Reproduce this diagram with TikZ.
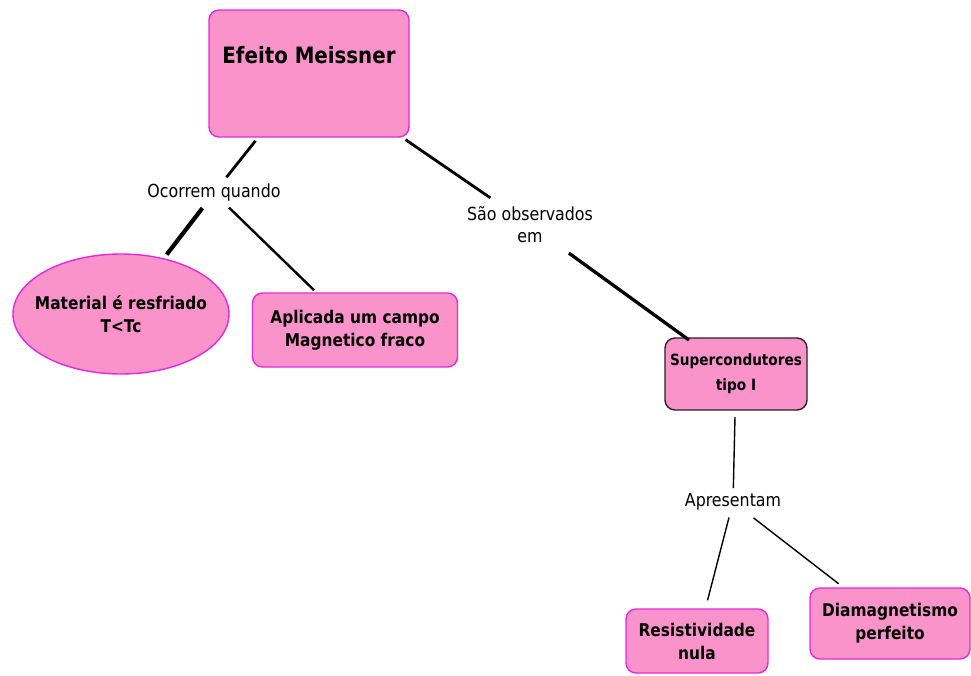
\documentclass[tikz,border=0pt]{standalone}
\usepackage{fontspec}
\setmainfont{DejaVu Sans}[FakeStretch=0.88]
\usetikzlibrary{shapes.geometric}
\definecolor{conceptfill}{RGB}{249,147,201}
\definecolor{conceptline}{RGB}{226,40,226}
\definecolor{darkline}{RGB}{45,30,40}
\begin{document}
\begin{tikzpicture}[x=1pt, y=-1pt,
  concept/.style={draw=conceptline, line width=1.4pt, fill=conceptfill, rounded corners=10pt,
    inner sep=0pt, align=center, font=\bfseries\fontsize{17.5}{23}\selectfont},
  linkword/.style={inner sep=0pt, align=center, font=\fontsize{18}{22}\selectfont},
  thick link/.style={line width=2.8pt},
  thin link/.style={line width=1.4pt}]
\useasboundingbox (0,0) rectangle (971,675);
% main concept
\node[concept, minimum width=200pt, text height=53pt, text depth=74pt,
  font=\bfseries\fontsize{22.5}{26}\selectfont] at (309,73.5) (meissner) {Efeito Meissner};
% conditions
\node[linkword] at (214,193) (ocorrem) {Ocorrem quando};
\node[concept, ellipse, rounded corners=0pt, inner sep=-12pt, minimum width=216pt, minimum height=120pt] at (121,314) (resfriado) {Material é resfriado\\T<Tc};
\node[concept, minimum width=205pt, minimum height=74pt] at (355,330) (campo) {Aplicada um campo\\Magnetico fraco};
% where it shows up
\node[linkword] at (530,225) (observados) {São observados\\em};
\node[concept, draw=darkline, minimum width=142pt, minimum height=72pt,
  font=\bfseries\fontsize{15.5}{25}\selectfont] at (736,374) (tipoI) {Supercondutores\\tipo I};
\node[linkword] at (733,502) (apresentam) {Apresentam};
\node[concept, minimum width=142pt, minimum height=64pt] at (697,641) (nula) {Resistividade\\nula};
\node[concept, minimum width=160pt, minimum height=71pt] at (890,623.5) (perfeito) {Diamagnetismo\\perfeito};
% links
\draw[thick link, shorten <=86pt, shorten >=20pt] (meissner.center) -- (ocorrem.center);
\draw[thick link, line width=4.2pt, shorten <=19pt, shorten >=75pt] (ocorrem.center) -- (resfriado.center);
\draw[thick link, line width=2.4pt, shorten <=21pt, shorten >=57pt] (ocorrem.center) -- (campo.center);
\draw[thick link, shorten <=117pt, shorten >=48pt] (meissner.center) -- (observados.center);
\draw[thick link, line width=3.3pt, shorten <=48pt, shorten >=58pt] (observados.center) -- (tipoI.center);
\draw[thin link, shorten <=43pt, shorten >=14pt] (tipoI.center) -- (apresentam.center);
\draw[thin link, shorten <=16pt, shorten >=42pt] (apresentam.center) -- (nula.center);
\draw[thin link, shorten <=26pt, shorten >=65pt] (apresentam.center) -- (perfeito.center);
\end{tikzpicture}
\end{document}
